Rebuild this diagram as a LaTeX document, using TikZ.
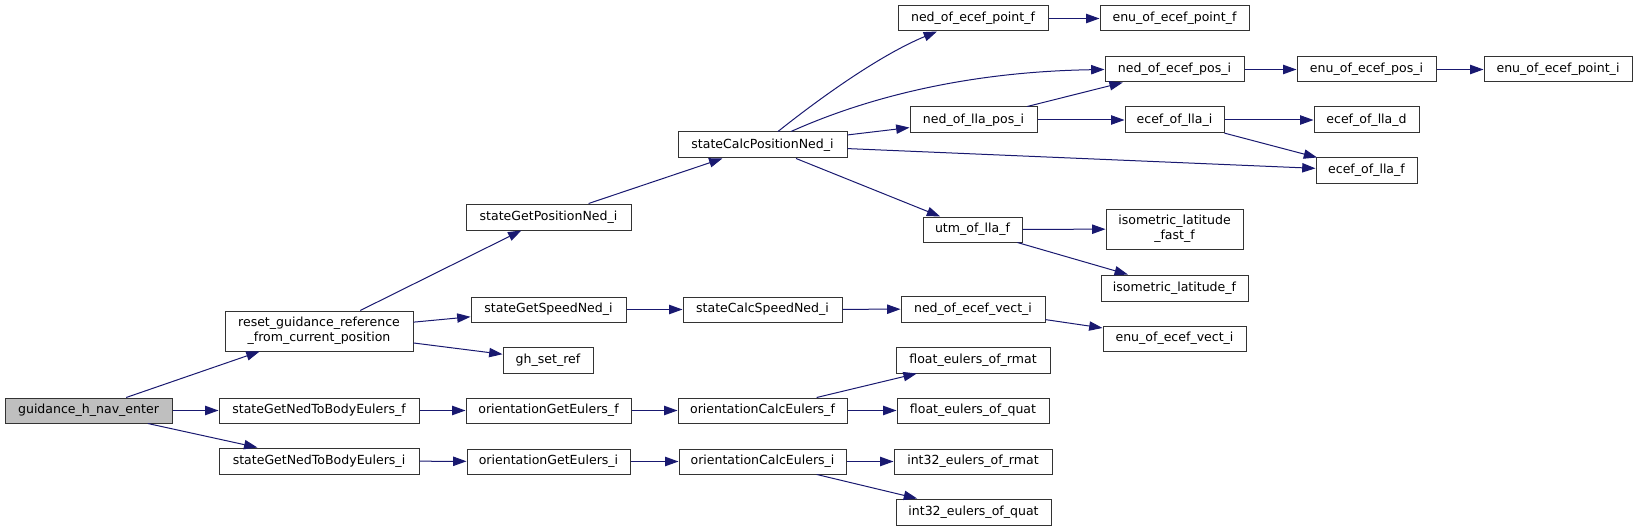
\documentclass[tikz,border=0pt]{standalone}
\usepackage{fontspec}
\setmainfont{DejaVu Sans}
\usetikzlibrary{arrows.meta}
\definecolor{edgec}{HTML}{191970}
\definecolor{rootfill}{HTML}{BFBFBF}
\definecolor{boxline}{HTML}{333333}
\tikzset{
  box/.style={draw=boxline, line width=0.75pt, fill=white, inner sep=0pt,
    font=\fontsize{9.4}{11.5}\selectfont, align=center},
  call/.style={draw=edgec, line width=0.75pt, -{Triangle[length=10pt,width=7pt]}},
}
\newcommand\bx[7][]{\node[box,#1,minimum width={(#5-#3)*0.75pt},minimum height={(#6-#4)*0.75pt}] (#2) at ({(#3+#5)/2},{(#4+#6)/2}) {#7};}
\begin{document}
\begin{tikzpicture}[x=0.75pt,y=-0.75pt]
\useasboundingbox (0,0) rectangle (1637,531);
\bx[fill=rootfill]{root}{5}{398}{172}{423}{guidance\_h\_nav\_enter}
\bx{reset}{225}{311}{413}{351}{reset\_guidance\_reference\\\_from\_current\_position}
\bx{sgnef}{219}{398}{419}{423}{stateGetNedToBodyEulers\_f}
\bx{sgnei}{219}{448}{419}{474}{stateGetNedToBodyEulers\_i}
\bx{sgpn}{466}{204}{631}{230}{stateGetPositionNed\_i}
\bx{scpn}{678}{132}{847}{158}{stateCalcPositionNed\_i}
\bx{sgsn}{471}{297}{626}{322}{stateGetSpeedNed\_i}
\bx{scsn}{683}{297}{842}{322}{stateCalcSpeedNed\_i}
\bx{ghref}{503}{347}{593}{373}{gh\_set\_ref}
\bx{ogef}{466}{398}{631}{423}{orientationGetEulers\_f}
\bx{ocef}{678}{398}{847}{423}{orientationCalcEulers\_f}
\bx{ogei}{467}{449}{630}{474}{orientationGetEulers\_i}
\bx{ocei}{679}{449}{846}{474}{orientationCalcEulers\_i}
\bx{nepf}{898}{6}{1048}{31}{ned\_of\_ecef\_point\_f}
\bx{eepf}{1100}{6}{1249}{31}{enu\_of\_ecef\_point\_f}
\bx{nepi}{1105}{57}{1244}{82}{ned\_of\_ecef\_pos\_i}
\bx{eepi}{1297}{57}{1436}{82}{enu\_of\_ecef\_pos\_i}
\bx{eepti}{1484}{57}{1632}{82}{enu\_of\_ecef\_point\_i}
\bx{nlpi}{910}{107}{1037}{133}{ned\_of\_lla\_pos\_i}
\bx{elli}{1125}{107}{1224}{133}{ecef\_of\_lla\_i}
\bx{elld}{1314}{107}{1419}{133}{ecef\_of\_lla\_d}
\bx{ellf}{1316}{158}{1417}{183}{ecef\_of\_lla\_f}
\bx{utm}{923}{217}{1022}{242}{utm\_of\_lla\_f}
\bx{ilff}{1106}{209}{1243}{249}{isometric\_latitude\\\_fast\_f}
\bx{ilf}{1101}{275}{1248}{301}{isometric\_latitude\_f}
\bx{nevi}{901}{296}{1045}{322}{ned\_of\_ecef\_vect\_i}
\bx{eevi}{1103}{326}{1246}{351}{enu\_of\_ecef\_vect\_i}
\bx{fer}{896}{347}{1050}{373}{float\_eulers\_of\_rmat}
\bx{feq}{897}{398}{1049}{423}{float\_eulers\_of\_quat}
\bx{ier}{894}{449}{1052}{474}{int32\_eulers\_of\_rmat}
\bx{ieq}{896}{499}{1051}{525}{int32\_eulers\_of\_quat}
% edges
\draw[call] (root) -- (reset);
\draw[call] (root) -- (sgnef);
\draw[call] (root) -- (sgnei);
\draw[call] (reset) -- (sgpn);
\draw[call] (reset) -- (sgsn);
\draw[call] (reset) -- (ghref);
\draw[call] (sgpn) -- (scpn);
\draw[call] ([xshift=11.6pt]scpn.north) .. controls (820,98) and (880,55) .. ([xshift=-27pt]nepf.south);
\draw[call] ([xshift=21.4pt]scpn.north) .. controls (850,105) and (950,72) .. (nepi.west);
\draw[call] (scpn) -- (nlpi);
\draw[call] (scpn) -- (ellf);
\draw[call] (scpn) -- (utm);
\draw[call] (nepf) -- (eepf);
\draw[call] (nepi) -- (eepi);
\draw[call] (eepi) -- (eepti);
\draw[call] (nlpi) -- (nepi);
\draw[call] (nlpi) -- (elli);
\draw[call] (elli) -- (elld);
\draw[call] (elli) -- (ellf);
\draw[call] (utm) -- (ilff);
\draw[call] (utm) -- (ilf);
\draw[call] (sgsn) -- (scsn);
\draw[call] (scsn) -- (nevi);
\draw[call] (nevi) -- (eevi);
\draw[call] (sgnef) -- (ogef);
\draw[call] (ogef) -- (ocef);
\draw[call] (ocef) -- (fer);
\draw[call] (ocef) -- (feq);
\draw[call] (sgnei) -- (ogei);
\draw[call] (ogei) -- (ocei);
\draw[call] (ocei) -- (ier);
\draw[call] (ocei) -- (ieq);
\end{tikzpicture}
\end{document}
